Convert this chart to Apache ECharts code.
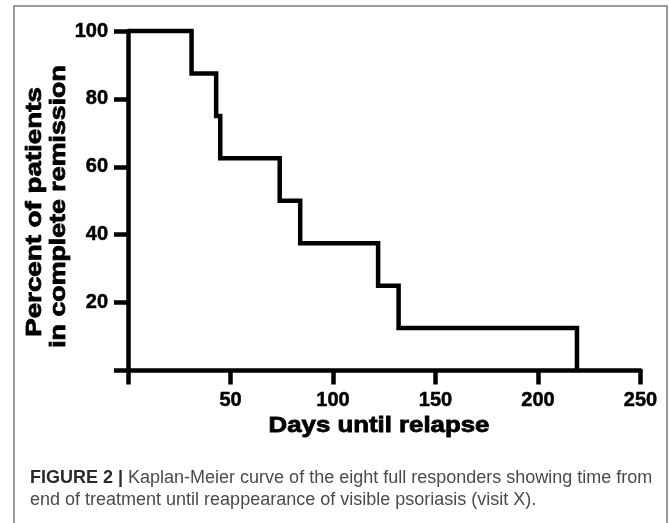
<!DOCTYPE html>
<html><head><meta charset="utf-8">
<script src="https://cdn.jsdelivr.net/npm/echarts@6/dist/echarts.min.js"></script>
<style>html,body{margin:0;padding:0;background:#fff}#c{width:669px;height:523px}</style>
</head><body><div id="c"></div>
<script>
// Kaplan-Meier data (days until relapse, percent in complete remission)
const days = [0, 31, 43, 45, 74, 84, 122, 132, 219];
const percentRemission = [100, 87.5, 75, 62.5, 50, 37.5, 25, 12.5, 0];
const xTicks = [0, 50, 100, 150, 200, 250];
const yTicks = [0, 20, 40, 60, 80, 100];
const xTitle = 'Days until relapse';
const yTitleLines = ['Percent of patients', 'in complete remission'];
const captionBold = 'FIGURE 2 |';
const captionLines = ['Kaplan-Meier curve of the eight full responders showing time from',
                      'end of treatment until reappearance of visible psoriasis (visit X).'];

const FONT = '"Liberation Sans", Arial, Helvetica, sans-serif';
const chart = echarts.init(document.getElementById('c'), null, {renderer: 'canvas'});

const axisCommon = {
  type: 'value',
  splitLine: {show: false},
  axisLine: {show: true, onZero: false, lineStyle: {color: '#000', width: 4.5}},
  axisTick: {show: true, length: 14, lineStyle: {color: '#000', width: 4.5}},
};
const tickLabel = {formatter: v => (v === 0 ? '' : String(v)), fontFamily: FONT, fontWeight: 'bold',
                   fontSize: 20, color: '#000', textBorderColor: '#000', textBorderWidth: 0.5};

chart.setOption({
  animation: false,
  backgroundColor: '#fff',
  grid: {left: 128, top: 31, width: 512.5, height: 339.5, containLabel: false},
  xAxis: Object.assign({}, axisCommon, {
    min: xTicks[0], max: xTicks[xTicks.length - 1], interval: xTicks[1] - xTicks[0],
    axisLabel: Object.assign({margin: 19.5}, tickLabel)
  }),
  yAxis: Object.assign({}, axisCommon, {
    min: yTicks[0], max: yTicks[yTicks.length - 1], interval: yTicks[1] - yTicks[0],
    axisLabel: Object.assign({margin: 20}, tickLabel)
  }),
  series: [{
    type: 'line',
    step: 'end',
    data: days.map((d, i) => [d, percentRemission[i]]),
    symbol: 'none',
    clip: false,
    lineStyle: {color: '#000', width: 4.5, join: 'miter', cap: 'butt'}
  }],
  graphic: [
    {type: 'rect', z: -1, shape: {x: 14, y: 6, width: 653, height: 600},
     style: {fill: 'none', stroke: '#7a7a7a', lineWidth: 1.5}},
    {type: 'text', x: 379, y: 426, scaleX: 1.2,
     style: {text: xTitle, font: 'bold 21.5px ' + FONT, fill: '#000', stroke: '#000', lineWidth: 0.8,
             textAlign: 'center', textVerticalAlign: 'middle'}},
    {type: 'text', x: 35, y: 212, rotation: Math.PI / 2, scaleX: 1.29,
     style: {text: yTitleLines[0], font: 'bold 21.5px ' + FONT, fill: '#000', stroke: '#000', lineWidth: 0.8,
             textAlign: 'center', textVerticalAlign: 'middle'}},
    {type: 'text', x: 59, y: 206.5, rotation: Math.PI / 2, scaleX: 1.245,
     style: {text: yTitleLines[1], font: 'bold 21.5px ' + FONT, fill: '#000', stroke: '#000', lineWidth: 0.8,
             textAlign: 'center', textVerticalAlign: 'middle'}},
    {type: 'text', x: 30, y: 467,
     style: {text: '{b|' + captionBold + '} ' + captionLines[0] + '\n' + captionLines[1],
             fontSize: 18, fontFamily: FONT, fill: '#4a4a4a', lineHeight: 22, textVerticalAlign: 'top',
             rich: {b: {fontWeight: 'bold', fill: '#2a2a2a', fontSize: 18, fontFamily: FONT, lineHeight: 22}}}}
  ]
});
</script></body></html>
